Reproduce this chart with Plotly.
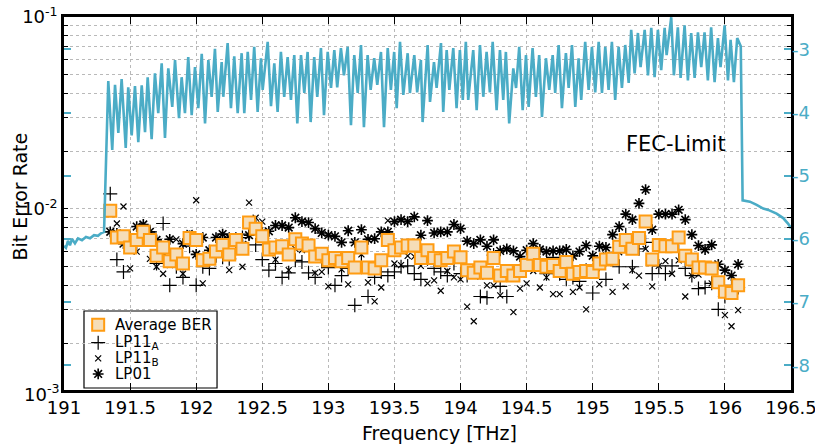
import numpy as np
import plotly.graph_objects as go

# ---------------- data ----------------
channel_thz = [191.35, 191.40, 191.45, 191.50, 191.55, 191.60, 191.65, 191.70, 191.75, 191.80,
               191.85, 191.90, 191.95, 192.00, 192.05, 192.10, 192.15, 192.20, 192.25, 192.30,
               192.35, 192.40, 192.45, 192.50, 192.55, 192.60, 192.65, 192.70, 192.75, 192.80,
               192.85, 192.90, 192.95, 193.00, 193.05, 193.10, 193.15, 193.20, 193.25, 193.30,
               193.35, 193.40, 193.45, 193.50, 193.55, 193.60, 193.65, 193.70, 193.75, 193.80,
               193.85, 193.90, 193.95, 194.00, 194.05, 194.10, 194.15, 194.20, 194.25, 194.30,
               194.35, 194.40, 194.45, 194.50, 194.55, 194.60, 194.65, 194.70, 194.75, 194.80,
               194.85, 194.90, 194.95, 195.00, 195.05, 195.10, 195.15, 195.20, 195.25, 195.30,
               195.35, 195.40, 195.45, 195.50, 195.55, 195.60, 195.65, 195.70, 195.75, 195.80,
               195.85, 195.90, 195.95, 196.00, 196.05, 196.10]

# BER values in units of 1e-3
avg_ber_e3 = [9.8, 7.1, 7.2, 6.3, 6.9, 7.6, 6.9, 5.7, 6.3, 5.35,
              5.8, 5.2, 7.05, 6.9, 5.4, 5.5, 6.0, 6.5, 5.8, 6.9,
              6.2, 8.5, 7.9, 7.2, 6.15, 6.3, 6.4, 5.8, 6.95, 6.6,
              6.45, 5.65, 5.85, 5.4, 5.55, 5.35, 5.55, 4.95, 6.3, 4.95,
              4.9, 5.4, 6.9, 6.1, 6.3, 6.45, 6.45, 5.55, 6.1, 5.55,
              5.4, 5.55, 6.0, 5.6, 4.8, 4.65, 4.95, 4.65, 5.55, 4.5,
              4.75, 4.5, 4.75, 5.1, 5.85, 5.1, 5.0, 5.1, 4.75, 5.3,
              4.6, 4.7, 4.75, 4.7, 5.2, 5.45, 5.5, 6.35, 6.9, 6.2,
              7.05, 8.6, 5.45, 6.5, 6.4, 6.4, 7.1, 5.7, 5.45, 4.95,
              4.95, 4.9, 4.15, 3.7, 3.65, 4.0]

lp11a_e3 = [12.0, 5.45, 4.7, 7.1, 6.6, 7.2, 7.6, 5.2, 8.4, 4.0,
            5.0, 4.4, 6.4, 4.0, 5.0, 4.9, 5.7, 5.6, 5.5, 6.8,
            7.1, 7.4, 6.5, 5.45, 4.8, 5.2, 4.4, 4.65, 5.4, 5.3,
            4.65, 4.4, 5.35, 4.95, 4.0, 4.5, 4.9, 3.15, 5.3, 3.5,
            4.4, 4.7, 4.5, 4.7, 5.0, 5.05, 4.6, 4.3, 5.5, 4.9,
            4.7, 4.5, 5.2, 4.6, 4.5, 4.75, 3.5, 3.45, 5.75, 3.95,
            3.5, 4.55, 4.75, 5.1, 6.2, 5.25, 4.6, 5.6, 4.6, 4.3,
            4.4, 4.2, 4.8, 3.65, 5.15, 4.3, 5.45, 5.0, 7.35, 5.0,
            6.2, 6.7, 4.6, 5.05, 4.6, 5.05, 6.0, 4.9, 4.5, 3.85,
            3.9, 4.1, 3.0, 3.5, 4.0, 3.9]

lp11b_e3 = [9.8, 8.4, 10.3, 4.9, 6.0, 7.3, 5.5, 5.0, 4.6, 5.1,
            6.95, 4.6, 7.5, 11.1, 4.1, 5.5, 6.1, 6.5, 4.8, 6.8,
            5.0, 10.8, 9.0, 8.6, 6.0, 5.45, 6.6, 4.8, 6.2, 6.1,
            6.2, 4.65, 4.7, 3.95, 5.45, 4.85, 4.05, 5.0, 5.8, 4.15,
            3.3, 3.9, 8.7, 5.2, 5.1, 5.7, 5.65, 5.05, 4.1, 4.25,
            3.75, 4.75, 4.4, 4.3, 3.1, 2.6, 4.45, 4.0, 4.0, 3.55,
            4.55, 2.9, 3.85, 4.1, 4.75, 3.9, 4.4, 3.6, 3.6, 5.45,
            3.7, 3.9, 3.0, 4.75, 4.05, 5.75, 3.7, 5.95, 3.95, 4.8,
            4.5, 6.2, 3.95, 5.05, 5.35, 4.6, 5.4, 3.5, 4.5, 4.55,
            4.8, 4.1, 4.3, 2.8, 2.45, 2.97]

lp01_e3 = [7.6, 7.45, 6.6, 6.9, 8.1, 8.3, 7.6, 6.9, 5.9, 6.95,
           5.45, 6.6, 7.25, 5.8, 7.1, 6.1, 7.1, 7.4, 7.1, 7.1,
           6.5, 7.3, 8.2, 7.55, 7.65, 8.2, 8.2, 8.0, 9.0, 8.6,
           8.5, 7.9, 7.5, 7.3, 7.2, 6.7, 7.7, 6.7, 7.8, 6.95,
           7.0, 7.6, 7.6, 8.6, 8.8, 8.6, 9.1, 7.3, 8.7, 7.5,
           7.6, 7.6, 8.3, 7.9, 6.8, 6.6, 6.9, 6.4, 6.9, 6.05,
           6.2, 6.05, 5.65, 6.1, 6.6, 6.15, 6.0, 6.05, 6.05, 6.15,
           5.7, 6.0, 6.45, 5.7, 6.4, 6.3, 7.35, 8.1, 9.4, 8.8,
           10.7, 12.6, 7.8, 9.4, 9.4, 9.4, 9.9, 8.8, 7.35, 6.45,
           6.15, 6.5, 5.15, 4.8, 4.5, 5.15]

# Teal trace (right axis)
teal_thz = [191.000, 191.015, 191.030, 191.045, 191.061, 191.083, 191.106, 191.136, 191.166, 191.197,
            191.227, 191.257, 191.280, 191.303,
            191.335, 191.365, 191.386, 191.411, 191.436, 191.467, 191.486, 191.512, 191.537, 191.562,
            191.588, 191.613, 191.633, 191.663, 191.688, 191.713, 191.739, 191.764, 191.789, 191.819,
            191.840, 191.870, 191.890, 191.915, 191.940, 191.966, 191.991, 192.016, 192.042, 192.067,
            192.092, 192.117, 192.142, 192.163, 192.193, 192.205, 192.238, 192.263, 192.288, 192.314,
            192.344, 192.364, 192.390, 192.415, 192.439, 192.465, 192.490, 192.503, 192.541, 192.566,
            192.591, 192.616, 192.641, 192.666, 192.692, 192.717, 192.742, 192.765, 192.793, 192.818,
            192.843, 192.866, 192.893, 192.916, 192.944, 192.967, 192.995, 193.020, 193.045, 193.067,
            193.095, 193.118, 193.146, 193.171, 193.196, 193.222, 193.247, 193.269, 193.297, 193.320,
            193.347, 193.370, 193.398, 193.421, 193.449, 193.473, 193.498, 193.517, 193.542, 193.567,
            193.600, 193.617, 193.650, 193.672, 193.700, 193.713, 193.751, 193.769, 193.799, 193.819,
            193.852, 193.869, 193.895, 193.915, 193.945, 193.970, 193.995, 194.017, 194.040, 194.058,
            194.096, 194.122, 194.147, 194.172, 194.197, 194.222, 194.243, 194.273, 194.298, 194.323,
            194.343, 194.368, 194.399, 194.420, 194.444, 194.470, 194.495, 194.515, 194.545, 194.570,
            194.595, 194.616, 194.646, 194.671, 194.697, 194.716, 194.742, 194.767, 194.797, 194.818,
            194.843, 194.868, 194.893, 194.913, 194.943, 194.969, 194.994, 195.019, 195.045, 195.070,
            195.095, 195.120, 195.145, 195.170, 195.196, 195.221, 195.246, 195.272, 195.291, 195.317,
            195.342, 195.362, 195.393, 195.418, 195.443, 195.468, 195.493, 195.518, 195.544, 195.559,
            195.594, 195.614, 195.644, 195.665, 195.695, 195.720, 195.745, 195.771, 195.796, 195.821,
            195.846, 195.871, 195.896, 195.922, 195.947, 195.967, 195.998, 196.023, 196.043, 196.068,
            196.093, 196.120, 196.134, 196.189, 196.240, 196.290, 196.328, 196.391, 196.441, 196.479,
            196.500]
teal_level = [-6.11, -6.14, -6.03, -6.10, -6.00, -6.07, -5.99, -6.02, -5.97, -5.99,
              -5.94, -5.95, -5.91, -5.89,
              -3.50, -4.59, -3.56, -4.32, -3.47, -4.56, -3.60, -4.36, -3.58, -4.47,
              -3.57, -4.31, -3.44, -4.42, -3.38, -4.01, -3.22, -4.40, -3.30, -3.91,
              -3.17, -4.09, -3.44, -4.01, -3.12, -4.04, -3.28, -3.93, -3.07, -4.17,
              -3.17, -3.75, -2.99, -3.99, -3.20, -3.75, -2.90, -3.93, -3.11, -4.01,
              -3.06, -4.01, -3.04, -3.80, -2.96, -3.99, -3.14, -3.64, -2.88, -3.90,
              -3.22, -3.99, -3.04, -3.75, -3.12, -3.80, -3.09, -4.17, -3.09, -3.69,
              -3.04, -4.15, -3.12, -3.75, -2.98, -4.04, -3.04, -3.61, -3.01, -3.60,
              -2.98, -3.41, -2.96, -4.20, -3.09, -3.69, -2.93, -4.23, -3.09, -3.64,
              -3.14, -3.56, -3.04, -4.23, -2.98, -3.64, -3.04, -3.93, -2.88, -3.72,
              -3.06, -3.69, -3.09, -3.68, -3.17, -4.15, -2.93, -3.83, -3.20, -3.61,
              -2.90, -3.99, -3.01, -3.64, -2.98, -3.93, -3.01, -3.80, -2.88, -3.80,
              -3.01, -3.96, -2.93, -3.75, -3.04, -3.68, -2.88, -3.96, -3.01, -3.80,
              -3.04, -4.17, -3.30, -3.61, -2.96, -3.96, -3.09, -3.91, -2.98, -3.75,
              -3.09, -4.07, -3.14, -3.64, -3.09, -3.69, -2.93, -3.93, -3.06, -3.61,
              -2.93, -3.91, -3.14, -3.80, -2.88, -3.64, -2.96, -3.68, -2.88, -3.69,
              -2.96, -3.64, -2.88, -3.80, -2.96, -3.61, -2.93, -3.53, -2.69, -3.38,
              -2.74, -3.28, -2.69, -3.41, -2.66, -3.44, -2.69, -3.33, -2.66, -3.09,
              -2.49, -3.41, -2.65, -3.45, -2.62, -3.49, -2.74, -3.45, -2.73, -3.28,
              -2.73, -3.49, -2.65, -3.52, -2.82, -3.28, -2.62, -3.49, -2.85, -3.52,
              -2.82, -2.95, -5.39, -5.41, -5.46, -5.52, -5.54, -5.60, -5.67, -5.76,
              -5.83]

FEC_LIMIT = 2.7e-2
x_ticks = [191, 191.5, 192, 192.5, 193, 193.5, 194, 194.5, 195, 195.5, 196, 196.5]
x_ticktext = ["191", "191.5", "192", "192.5", "193", "193.5", "194", "194.5", "195", "195.5", "196", "196.5"]
y_decades = [1e-2, 1e-1]
y_decade_text = ["10<sup>-2</sup>", "10<sup>-1</sup>"]
right_ticks = [-8, -7, -6, -5, -4, -3]
right_ticktext = ["-8", "-7", "-6", "-5", "-4", "-3"]
legend_labels = ["Average BER", "LP11<sub>A</sub>", "LP11<sub>B</sub>", "LP01"]

# ---------------- figure ----------------
TEAL = "#4BACC6"
FONT = "DejaVu Sans"
ch = np.array(channel_thz)
scale = 1e-3

styles = {
    "avg": dict(symbol="square", size=12, color="#F5DDB8", line=dict(color="#FF9C12", width=2)),
    "a": dict(symbol="cross-thin-open", size=10, color="black", line=dict(color="black", width=1.2)),
    "b": dict(symbol="x-thin-open", size=6, color="black", line=dict(color="black", width=1.2)),
    "c": dict(symbol="asterisk-open", size=9, color="black", line=dict(color="black", width=1.6)),
}

fig = go.Figure()
fig.add_trace(go.Scatter(x=ch, y=np.array(lp11a_e3) * scale, mode="markers", name="LP11A",
                         showlegend=False, marker=styles["a"]))
fig.add_trace(go.Scatter(x=ch, y=np.array(lp11b_e3) * scale, mode="markers", name="LP11B",
                         showlegend=False, marker=styles["b"]))
fig.add_trace(go.Scatter(x=ch, y=np.array(lp01_e3) * scale, mode="markers", name="LP01",
                         showlegend=False, marker=styles["c"]))
fig.add_trace(go.Scatter(x=ch, y=np.array(avg_ber_e3) * scale, mode="markers", name="Average BER",
                         showlegend=False, marker=styles["avg"]))
fig.add_trace(go.Scatter(x=teal_thz, y=teal_level, mode="lines", yaxis="y2", showlegend=False,
                         line=dict(color=TEAL, width=2.6), hoverinfo="skip"))

# minor grid positions of the log axis
y_minor = [m * d for d in (1e-3, 1e-2) for m in range(2, 10)]

grid = dict(showgrid=True, gridcolor="#b9b9b9", gridwidth=1, griddash="dot")

fig.update_layout(
    width=815, height=444,
    margin=dict(l=64, r=24, t=17, b=54, autoexpand=False),
    paper_bgcolor="white", plot_bgcolor="white",
    font=dict(family=FONT, size=17, color="black"),
    showlegend=False,
    xaxis=dict(range=[191, 196.5], tickmode="array", tickvals=x_ticks, ticktext=x_ticktext,
               ticks="inside", ticklen=7, tickcolor="black", tickwidth=1,
               showline=True, linecolor="black", linewidth=2.5, mirror="ticks",
               zeroline=False, tickfont=dict(size=18), automargin=False,
               ticklabeloverflow="allow", **grid),
    yaxis=dict(type="log", range=[-2.943, -0.9999], tickmode="array",
               tickvals=y_decades, ticktext=y_decade_text,
               ticks="inside", ticklen=4, tickcolor="black", tickwidth=1,
               showline=True, linecolor="black", linewidth=2.5, mirror="ticks",
               zeroline=False, tickfont=dict(size=18), automargin=False,
               ticklabeloverflow="allow",
               minor=dict(tickmode="array", tickvals=y_minor, ticks="inside", ticklen=4,
                          tickcolor="black", showgrid=True, gridcolor="#b9b9b9",
                          griddash="dot", gridwidth=1),
               **grid),
    yaxis2=dict(overlaying="y", side="right", range=[-8.391, -2.487], tickmode="array",
                tickvals=right_ticks, ticktext=right_ticktext,
                ticks="inside", ticklen=7, tickcolor=TEAL, tickwidth=1.5,
                showline=False, mirror="ticks", showgrid=False, zeroline=False,
                automargin=False, ticklabeloverflow="allow",
                tickfont=dict(size=18, color=TEAL)),
    # helper axes in plot-fraction units for the hand-drawn legend
    xaxis2=dict(overlaying="x", range=[0, 1], visible=False, fixedrange=True),
    yaxis3=dict(overlaying="y", range=[0, 1], visible=False, fixedrange=True),
)

# axis titles
fig.add_annotation(text="Frequency [THz]", xref="paper", yref="paper", x=0.517, y=0,
                   xanchor="center", yanchor="middle", yshift=-43, showarrow=False,
                   font=dict(size=19, color="black"))
fig.add_annotation(text="Bit Error Rate", xref="paper", yref="paper", x=0, y=0.5,
                   xanchor="center", yanchor="middle", xshift=-45, yshift=7, textangle=-90,
                   showarrow=False, font=dict(size=19, color="black"))

# FEC limit line (shapes on log axes take log10 coordinates)
fig.add_shape(type="line", xref="paper", x0=0, x1=1, yref="y",
              y0=np.log10(FEC_LIMIT), y1=np.log10(FEC_LIMIT),
              line=dict(color="black", width=2.8), layer="above")
fig.add_annotation(text="FEC-Limit", xref="x", x=196.02, yref="y", y=np.log10(FEC_LIMIT),
                   xanchor="right", yanchor="top", yshift=-4, showarrow=False,
                   font=dict(size=21, color="black"))
# bottom decade label (10^-3 sits at the lower edge of the frame)
fig.add_annotation(text="10<sup>-3</sup>", xref="paper", x=0, yref="paper", y=0,
                   xanchor="right", yanchor="middle", xshift=-3, yshift=-3, showarrow=False,
                   font=dict(size=18, color="black"))

# ---- legend box drawn by hand (compact row spacing as in the reference) ----
box = dict(x0=0.0275, x1=0.2105, y0=0.0054, y1=0.2118)
fig.add_shape(type="rect", xref="paper", yref="paper", **box,
              fillcolor="white", line=dict(color="black", width=1.2), layer="between")
row_y = [0.175, 0.127, 0.085, 0.043]
for key, label, ry in zip(["avg", "a", "b", "c"], legend_labels, row_y):
    fig.add_trace(go.Scatter(x=[0.047], y=[ry], xaxis="x2", yaxis="y3", mode="markers",
                             marker=styles[key], showlegend=False, hoverinfo="skip"))
    fig.add_annotation(text=label, xref="paper", yref="paper", x=0.068, y=ry,
                       xanchor="left", yanchor="middle", showarrow=False,
                       font=dict(size=15, color="black"))

fig.write_html("out.html", config={"displayModeBar": False},
               post_script="document.body.style.margin='0';document.body.style.overflow='hidden';")
